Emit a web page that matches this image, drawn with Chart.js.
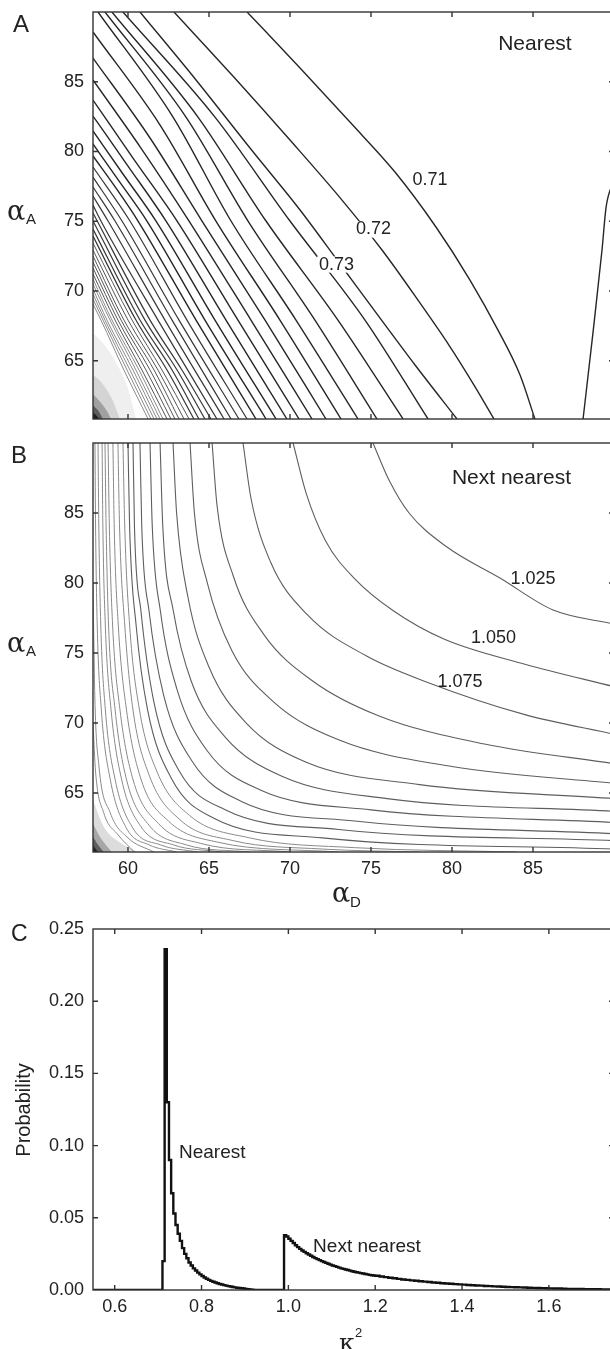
<!DOCTYPE html>
<html>
<head>
<meta charset="utf-8">
<script src="https://cdn.jsdelivr.net/npm/chart.js@4.4.1/dist/chart.umd.min.js"></script>
<style>
  html, body { margin: 0; padding: 0; background: #fff; overflow: hidden; }
  body { width: 610px; height: 1349px; position: relative; font-family: "Liberation Sans", Arial, sans-serif; color: #222; }
  canvas { position: absolute; left: 0; }
  .t { position: absolute; white-space: nowrap; line-height: 1; }
  .panel { font-size: 24px; }
  .greek { font-family: "DejaVu Serif", "Liberation Serif", serif; font-size: 27px; }
  .sub { font-size: 15px; }
  .rot { font-size: 20px; transform: translate(-50%, -50%) rotate(-90deg); }
</style>
</head>
<body>
<canvas id="chartA" width="620" height="430" style="top:0px"></canvas>
<canvas id="chartB" width="620" height="480" style="top:430px"></canvas>
<canvas id="chartC" width="620" height="439" style="top:910px"></canvas>

<div class="t panel" style="left:13px; top:12px">A</div>
<div class="t panel" style="left:11px; top:443px">B</div>
<div class="t panel" style="left:11px; top:922px; font-size:23px">C</div>

<div class="t greek" style="left:7px; top:197px">α</div>
<div class="t sub" style="left:26px; top:211px">A</div>
<div class="t greek" style="left:7px; top:629px">α</div>
<div class="t sub" style="left:26px; top:643px">A</div>
<div class="t greek" style="left:332px; top:879px">α</div>
<div class="t sub" style="left:350px; top:894px">D</div>
<div class="t greek" style="left:339px; top:1330px; font-size:25px">κ</div>
<div class="t sub" style="left:355px; top:1326px; font-size:13px">2</div>
<div class="t rot" style="left:23px; top:1110px">Probability</div>

<script>
// ---------- panel A : nearest, contour lines of kappa^2 over (alpha_D, alpha_A) ----------
const A_X_TICKS = [60, 65, 70, 75, 80, 85];
const A_Y_TICKS = [65, 70, 75, 80, 85];
const A_LEVELS = ['0.71', '0.72', '0.73', '0.74', '0.75', '0.76', '0.77', '0.78', '0.79', '0.80',
  '0.81', '0.82', '0.83', '0.84', '0.85', '0.86', '0.87', '0.88', '0.89', '0.90',
  '0.91', '0.92', '0.93', '0.94', '0.95', '0.96', '0.97', '0.98', '0.99', '1.00',
  '1.01', '1.02', '1.03', '1.04', '1.05', '1.06'];
const A_CURVES = [
  [[67.35, 90], [70.62, 85.99], [73.70, 82.11], [76.48, 78.53], [79.01, 74.59], [81.11, 70.79], [82.84, 67.20], [84.20, 63.98], [85.12, 60.83]],
  [[62.84, 90], [66.42, 85.48], [70.00, 80.82], [73.21, 76.52], [75.68, 72.94], [77.90, 69.35], [79.81, 66.13], [81.36, 63.26], [82.59, 60.83]],
  [[60.74, 90], [64.20, 85.13], [67.53, 80.25], [70.62, 75.81], [73.09, 71.94], [75.56, 68.06], [77.72, 64.70], [80.31, 60.83]],
  [[59.69, 90], [65.37, 82.47], [70.00, 75.02], [74.63, 67.92], [78.52, 60.83]],
  [[59.01, 90], [64.32, 82.47], [68.52, 75.02], [72.96, 67.92], [76.98, 60.83]],
  [[58.58, 90], [63.58, 82.47], [67.41, 75.02], [71.54, 67.92], [75.37, 60.83]],
  [[58.15, 90], [62.78, 82.47], [66.36, 75.02], [70.37, 67.92], [74.20, 60.83]],
  [[57.84, 88.57], [61.98, 81.90], [65.43, 75.02], [69.38, 67.92], [73.15, 60.83]],
  [[57.84, 86.70], [61.36, 80.97], [64.57, 75.02], [68.46, 67.92], [72.22, 60.83]],
  [[57.84, 85.13], [60.80, 80.25], [63.77, 75.02], [67.59, 67.92], [71.36, 60.83]],
  [[57.84, 83.69], [60.31, 79.53], [63.03, 75.02], [66.79, 67.92], [70.56, 60.83]],
  [[57.84, 82.54], [60.00, 78.96], [62.35, 75.02], [66.05, 67.92], [69.81, 60.83]],
  [[57.84, 81.47], [59.69, 78.39], [61.73, 75.02], [65.37, 67.92], [69.14, 60.83]],
  [[57.84, 80.54], [59.44, 77.89], [61.17, 75.02], [64.75, 67.92], [68.52, 60.83]],
  [[57.84, 79.68], [59.26, 77.38], [60.62, 75.02], [64.20, 67.92], [67.90, 60.83]],
  [[57.84, 78.89], [60.12, 75.02], [63.64, 67.92], [67.35, 60.83]],
  [[57.84, 78.17], [59.63, 75.02], [63.15, 67.92], [66.85, 60.83]],
  [[57.84, 77.46], [59.20, 75.02], [62.72, 67.92], [66.36, 60.83]],
  [[57.84, 76.81], [58.77, 75.02], [62.28, 67.92], [65.93, 60.83]],
  [[57.84, 76.16], [58.33, 75.02], [61.85, 67.92], [65.49, 60.83]],
  [[57.84, 75.59], [61.36, 67.92], [63.33, 64.34], [65.12, 60.83]],
  [[57.84, 75.02], [61.05, 67.92], [63.03, 64.34], [64.75, 60.83]],
  [[57.84, 74.44], [60.74, 67.92], [62.72, 64.34], [64.38, 60.83]],
  [[57.84, 73.94], [60.49, 67.92], [62.41, 64.34], [64.07, 60.83]],
  [[57.84, 73.44], [60.25, 67.92], [62.10, 64.34], [63.77, 60.83]],
  [[57.84, 72.94], [60.00, 67.92], [61.85, 64.34], [63.46, 60.83]],
  [[57.84, 72.51], [59.75, 67.92], [61.61, 64.34], [63.15, 60.83]],
  [[57.84, 72.08], [59.57, 67.92], [61.36, 64.34], [62.90, 60.83]],
  [[57.84, 71.65], [59.38, 67.92], [61.11, 64.34], [62.65, 60.83]],
  [[57.84, 71.22], [59.20, 67.92], [60.86, 64.34], [62.41, 60.83]],
  [[57.84, 70.86], [59.01, 67.92], [60.68, 64.34], [62.16, 60.83]],
  [[57.84, 70.50], [58.89, 67.92], [60.49, 64.34], [61.98, 60.83]],
  [[57.84, 70.14], [58.70, 67.92], [60.31, 64.34], [61.79, 60.83]],
  [[57.84, 69.78], [58.58, 67.92], [60.12, 64.34], [61.61, 60.83]],
  [[57.84, 69.43], [58.46, 67.92], [59.94, 64.34], [61.42, 60.83]],
  [[57.84, 69.07], [58.33, 67.92], [59.75, 64.34], [61.24, 60.83]]
];
// second branch of the lowest contour, near the right edge
const A_RIGHT_BRANCH = [[88.09, 60.83], [88.70, 66.99], [89.26, 72.94], [89.51, 76.0], [90.0, 77.96]];
// darkening toward the lower-left corner (outer to inner)
const A_SHADE = [
  [[57.84, 67.0], [58.5, 66.2], [59.3, 64.8], [60.0, 63.0], [60.5, 60.83]],
  [[57.84, 64.0], [58.4, 63.4], [59.0, 62.3], [59.5, 60.83]],
  [[57.84, 62.6], [58.25, 62.1], [58.7, 61.4], [58.95, 60.83]],
  [[57.84, 61.8], [58.15, 61.45], [58.45, 60.83]],
  [[57.84, 61.3], [58.05, 61.08], [58.22, 60.83]]
];

// ---------- panel B : next nearest ----------
const B_X_TICKS = [60, 65, 70, 75, 80, 85];
const B_Y_TICKS = [65, 70, 75, 80, 85];
const B_LEVELS = ['1.025', '1.050', '1.075', '1.100', '1.125', '1.150', '1.175', '1.200', '1.225', '1.250',
  '1.275', '1.300', '1.325', '1.350', '1.375', '1.400', '1.425', '1.450', '1.475', '1.500', '1.525'];
const B_CURVES = [
  [[75.12, 90], [76.11, 87.36], [77.35, 85.0], [79.69, 82.57], [82.96, 80.36], [86.24, 78.07], [90, 77.07]],
  [[70.19, 90], [71.0, 86.4], [72.2, 83.0], [74.0, 80.3], [76.4, 78.0], [79.5, 76.0], [84.5, 74.2], [90, 72.6]],
  [[67.1, 90], [67.6, 86.0], [68.8, 81.5], [71.1, 77.7], [74.7, 74.8], [78.5, 72.9], [84.5, 70.6], [90, 69.2]],
  [[65.19, 90], [65.5, 85.5], [66.5, 80.5], [68.4, 76.3], [71.4, 73.0], [75.5, 70.5], [82, 68.5], [90, 67.1]],
  [[63.83, 90], [64.1, 85], [64.9, 80], [66.4, 75.2], [69, 71.5], [73, 68.8], [80, 66.9], [90, 65.7]],
  [[62.78, 90], [63.0, 85], [63.7, 79], [65.0, 74], [67.3, 70], [71, 67.2], [78, 65.6], [90, 64.6]],
  [[61.98, 90], [62.15, 84], [62.8, 78], [63.9, 73], [66, 69], [69.5, 66.2], [76, 64.6], [90, 63.7]],
  [[61.36, 90], [61.5, 84], [62.0, 78], [63.0, 72.5], [64.9, 68], [68.2, 65.2], [75, 63.8], [90, 62.9]],
  [[60.74, 90], [60.85, 84], [61.3, 78], [62.2, 72], [64, 67.2], [67, 64.4], [74, 63.0], [90, 62.1]],
  [[60.31, 90], [60.4, 84], [60.8, 78], [61.6, 71.5], [63.2, 66.5], [66, 63.8], [73, 62.4], [90, 61.6]],
  [[60.0, 90], [60.1, 84], [60.5, 77], [61.2, 71], [62.7, 66], [65.3, 63.2], [72, 61.8], [90, 61.0]],
  [[59.69, 90], [59.8, 84], [60.1, 77], [60.7, 71], [61.8, 66.5], [63.8, 63.4], [67.5, 61.8], [74, 61.1], [84, 60.79]],
  [[59.38, 90], [59.48, 84], [59.8, 77], [60.3, 71], [61.3, 66.3], [63.2, 63.1], [66.5, 61.6], [72, 61.0], [78, 60.79]],
  [[59.07, 90], [59.15, 84], [59.4, 77], [59.9, 71], [60.8, 66], [62.5, 63], [65.5, 61.5], [73, 60.79]],
  [[58.77, 90], [58.85, 84], [59.05, 77], [59.5, 71], [60.3, 66], [61.9, 62.8], [64.5, 61.4], [70, 60.79]],
  [[58.58, 90], [58.65, 84], [58.8, 77], [59.2, 71], [59.9, 66], [61.3, 62.7], [63.6, 61.3], [67.5, 60.79]],
  [[58.40, 90], [58.45, 84], [58.6, 77], [58.95, 71], [59.6, 66], [60.8, 62.6], [62.8, 61.3], [65.8, 60.79]],
  [[58.15, 90], [58.2, 84], [58.32, 77], [58.6, 71], [59.2, 66], [60.3, 62.5], [62.0, 61.3], [64.3, 60.79]],
  [[57.96, 90], [58.0, 84], [58.1, 77], [58.35, 71], [58.9, 66], [59.9, 62.5], [61.3, 61.3], [63.0, 60.79]],
  [[57.84, 80], [57.95, 72], [58.2, 67], [58.9, 63.6], [60.0, 61.8], [61.6, 60.79]],
  [[57.84, 70], [58.0, 66.5], [58.5, 63.6], [59.4, 62.0], [60.4, 60.79]]
];
const B_SHADE = [
  [[57.84, 64.5], [58.5, 62.6], [59.6, 61.4], [60.6, 60.79]],
  [[57.84, 62.8], [58.3, 61.8], [59.0, 60.79]],
  [[57.84, 61.9], [58.15, 61.3], [58.5, 60.79]],
  [[57.84, 61.3], [58.0, 61.0], [58.15, 60.79]]
];

// ---------- panel C : histogram of kappa^2 ----------
const C_X_TICKS = [0.6, 0.8, 1.0, 1.2, 1.4, 1.6];
const C_Y_TICKS = [0, 0.05, 0.10, 0.15, 0.20, 0.25];
const BIN = 0.005;
const NEAREST_START = 0.710;
const NEAREST_P = [0.020, 0.236, 0.130, 0.090, 0.067, 0.053, 0.045, 0.039, 0.034, 0.029,
  0.025, 0.022, 0.019, 0.017, 0.015, 0.0135, 0.012, 0.0108, 0.0097, 0.0087,
  0.0078, 0.0070, 0.0063, 0.0057, 0.0052, 0.0047, 0.0042, 0.0038, 0.0034, 0.0030,
  0.0027, 0.0024, 0.0021, 0.0018, 0.0016, 0.0014, 0.0012, 0.0010, 0.0008, 0.0006,
  0.0004, 0.0002, 0.0001];
const NEXT_START = 0.990;
const NEXT_P = [0.038, 0.037, 0.0355, 0.034, 0.0325, 0.031, 0.0297, 0.0285, 0.0274, 0.0264,
  0.0255, 0.0246, 0.0237, 0.0229, 0.0221, 0.0214, 0.0207, 0.0200, 0.0194, 0.0188,
  0.0182, 0.0176, 0.0170, 0.0165, 0.0160, 0.0155, 0.0150, 0.0146, 0.0142, 0.0138,
  0.0134, 0.0130, 0.0126, 0.0123, 0.0120, 0.0117, 0.0114, 0.0111, 0.0108, 0.0105,
  0.0102, 0.0100];
const TAIL_START = 1.20;
const TAIL_BIN = 0.01;
const TAIL_P = [0.0099, 0.0094, 0.0089, 0.0085, 0.0081, 0.0077, 0.0073, 0.0070, 0.0067, 0.0064,
  0.0061, 0.0058, 0.0055, 0.0052, 0.0050, 0.0047, 0.0045, 0.0043, 0.0041, 0.0039,
  0.0037, 0.0035, 0.0033, 0.0031, 0.0030, 0.0028, 0.0027, 0.0025, 0.0024, 0.0023,
  0.0021, 0.0020, 0.0019, 0.0018, 0.0017, 0.0016, 0.0015, 0.0014, 0.0013, 0.0012,
  0.0011, 0.0010, 0.0010, 0.0009, 0.0008, 0.0008, 0.0007, 0.0007, 0.0006, 0.0006,
  0.0005, 0.0005, 0.0004, 0.0004, 0.0004, 0.0003];

const INK = '#222';
const TICK_FONT = { family: '"Liberation Sans", Arial, sans-serif', size: 18 };

// frame around the plot plus inward tick marks on all four sides
const frameTicks = {
  id: 'frameTicks',
  afterDatasetsDraw(chart) {
    const { ctx, chartArea: a, scales: { x, y } } = chart;
    ctx.save();
    ctx.strokeStyle = '#333';
    ctx.lineWidth = 1.4;
    ctx.strokeRect(a.left, a.top, a.right - a.left, a.bottom - a.top);
    ctx.beginPath();
    x.ticks.forEach(t => {
      const p = x.getPixelForValue(t.value);
      if (p <= a.left + 1 || p >= a.right - 1) return;
      ctx.moveTo(p, a.bottom); ctx.lineTo(p, a.bottom - 5);
      ctx.moveTo(p, a.top); ctx.lineTo(p, a.top + 5);
    });
    y.ticks.forEach(t => {
      const p = y.getPixelForValue(t.value);
      if (p <= a.top + 1 || p >= a.bottom - 1) return;
      ctx.moveTo(a.left, p); ctx.lineTo(a.left + 5, p);
      ctx.moveTo(a.right, p); ctx.lineTo(a.right - 5, p);
    });
    ctx.stroke();
    ctx.restore();
  }
};

// text placed in data coordinates
function notesPlugin(items) {
  return {
    id: 'notes',
    afterDatasetsDraw(chart) {
      const { ctx, scales: { x, y } } = chart;
      items.forEach(n => {
        const px = x.getPixelForValue(n.x), py = y.getPixelForValue(n.y);
        ctx.save();
        ctx.font = n.size + 'px "Liberation Sans", Arial, sans-serif';
        ctx.textAlign = n.align || 'center';
        ctx.textBaseline = n.base || 'middle';
        if (n.knock) {
          const w = ctx.measureText(n.text).width;
          ctx.fillStyle = '#fff';
          ctx.fillRect(px - w / 2 - 2, py - n.size * 0.45, w + 4, n.size * 0.9);
        }
        ctx.fillStyle = INK;
        ctx.fillText(n.text, px, py);
        ctx.restore();
      });
    }
  };
}

function pts(arr) { return arr.map(p => ({ x: p[0], y: p[1] })); }

function lineSet(label, arr, color, width) {
  return {
    label, data: pts(arr), showLine: true, pointRadius: 0,
    borderColor: color, borderWidth: width, fill: false,
    cubicInterpolationMode: 'monotone', order: 0
  };
}

function shadeSets(list, grays) {
  return list.map((arr, i) => ({
    label: 'shade' + i, data: pts(arr), showLine: true, pointRadius: 0,
    borderWidth: 0, borderColor: 'rgba(0,0,0,0)', backgroundColor: grays[i],
    fill: 'start', cubicInterpolationMode: 'monotone', order: 20 - i
  }));
}

function makePanel(id, cfg) {
  return new Chart(document.getElementById(id), {
    type: 'scatter',
    data: { datasets: cfg.datasets },
    options: {
      responsive: false,
      animation: false,
      devicePixelRatio: 1,
      events: [],
      layout: { padding: { top: cfg.top, right: 6, bottom: 0, left: 0 } },
      plugins: { legend: { display: false }, tooltip: { enabled: false } },
      scales: {
        x: {
          type: 'linear', min: cfg.xMin, max: cfg.xMax,
          afterBuildTicks: s => { s.ticks = cfg.xTicks.map(v => ({ value: v })); },
          afterFit: s => { s.height = cfg.xSpace; s.paddingLeft = 0; s.paddingRight = 0; },
          grid: { display: false, drawTicks: false },
          border: { display: false },
          ticks: { display: cfg.xLabels, padding: 6, color: INK, font: TICK_FONT,
            maxRotation: 0, autoSkip: false, callback: cfg.xFmt }
        },
        y: {
          type: 'linear', min: cfg.yMin, max: cfg.yMax,
          afterBuildTicks: s => { s.ticks = cfg.yTicks.map(v => ({ value: v })); },
          afterFit: s => { s.width = 93; s.paddingTop = 0; s.paddingBottom = 0; },
          grid: { display: false, drawTicks: false },
          border: { display: false },
          ticks: { padding: 9, color: INK, font: TICK_FONT, autoSkip: false, callback: cfg.yFmt }
        }
      }
    },
    plugins: [frameTicks, notesPlugin(cfg.notes)]
  });
}

Chart.defaults.font.family = '"Liberation Sans", Arial, sans-serif';

// panel A datasets: lines get lighter toward the crowded corner
const aSets = A_CURVES.map((c, i) => {
  const color = i < 15 ? '#262626' : i < 24 ? '#363636' : i < 30 ? '#555555' : '#8a8a8a';
  const w = i < 15 ? 1.4 : i < 24 ? 1.2 : 1.0;
  return lineSet(A_LEVELS[i], c, color, w);
});
aSets.push(lineSet('0.71b', A_RIGHT_BRANCH, '#262626', 1.4));
makePanel('chartA', {
  top: 12, xSpace: 11, xLabels: false,
  xMin: 57.84, xMax: 90, yMin: 60.83, yMax: 90,
  xTicks: A_X_TICKS, yTicks: A_Y_TICKS,
  xFmt: v => String(v), yFmt: v => String(v),
  datasets: aSets.concat(shadeSets(A_SHADE, ['#efefef', '#d4d4d4', '#a0a0a0', '#5c5c5c', '#1e1e1e'])),
  notes: [
    { text: 'Nearest', x: 85.12, y: 87.28, size: 21, base: 'alphabetic' },
    { text: '0.71', x: 78.64, y: 77.96, size: 18, knock: true },
    { text: '0.72', x: 75.16, y: 74.41, size: 18, knock: true },
    { text: '0.73', x: 72.87, y: 71.90, size: 18, knock: true }
  ]
});

// panel B datasets
const bSets = B_CURVES.map((c, i) => {
  const color = i < 11 ? '#5e5e5e' : '#8a8a8a';
  return lineSet(B_LEVELS[i], c, color, i < 11 ? 1.1 : 1.0);
});
makePanel('chartB', {
  top: 13, xSpace: 58, xLabels: true,
  xMin: 57.84, xMax: 90, yMin: 60.79, yMax: 90,
  xTicks: B_X_TICKS, yTicks: B_Y_TICKS,
  xFmt: v => String(v), yFmt: v => String(v),
  datasets: bSets.concat(shadeSets(B_SHADE, ['#dcdcdc', '#a6a6a6', '#5e5e5e', '#222222'])),
  notes: [
    { text: 'Next nearest', x: 83.67, y: 87.07, size: 21, base: 'alphabetic' },
    { text: '1.025', x: 85.0, y: 80.32, size: 18 },
    { text: '1.050', x: 82.56, y: 76.04, size: 18 },
    { text: '1.075', x: 80.49, y: 72.96, size: 18 }
  ]
});

// panel C: one stepped outline built from the bins
const hist = [{ x: 0.55, y: 0 }];
NEAREST_P.forEach((p, i) => hist.push({ x: NEAREST_START + i * BIN, y: p }));
hist.push({ x: NEAREST_START + NEAREST_P.length * BIN, y: 0 });
NEXT_P.forEach((p, i) => hist.push({ x: NEXT_START + i * BIN, y: p }));
TAIL_P.forEach((p, i) => hist.push({ x: TAIL_START + i * TAIL_BIN, y: p }));
makePanel('chartC', {
  top: 19, xSpace: 59, xLabels: true,
  xMin: 0.55, xMax: 1.75, yMin: 0, yMax: 0.25,
  xTicks: C_X_TICKS, yTicks: C_Y_TICKS,
  xFmt: v => v.toFixed(1), yFmt: v => v.toFixed(2),
  datasets: [{
    label: 'kappa2', data: hist, showLine: true, stepped: true, pointRadius: 0,
    borderColor: '#111', borderWidth: 2.4, fill: false
  }],
  notes: [
    { text: 'Nearest', x: 0.748, y: 0.0914, size: 19, align: 'left', base: 'alphabetic' },
    { text: 'Next nearest', x: 1.057, y: 0.0263, size: 19, align: 'left', base: 'alphabetic' }
  ]
});
</script>
</body>
</html>
